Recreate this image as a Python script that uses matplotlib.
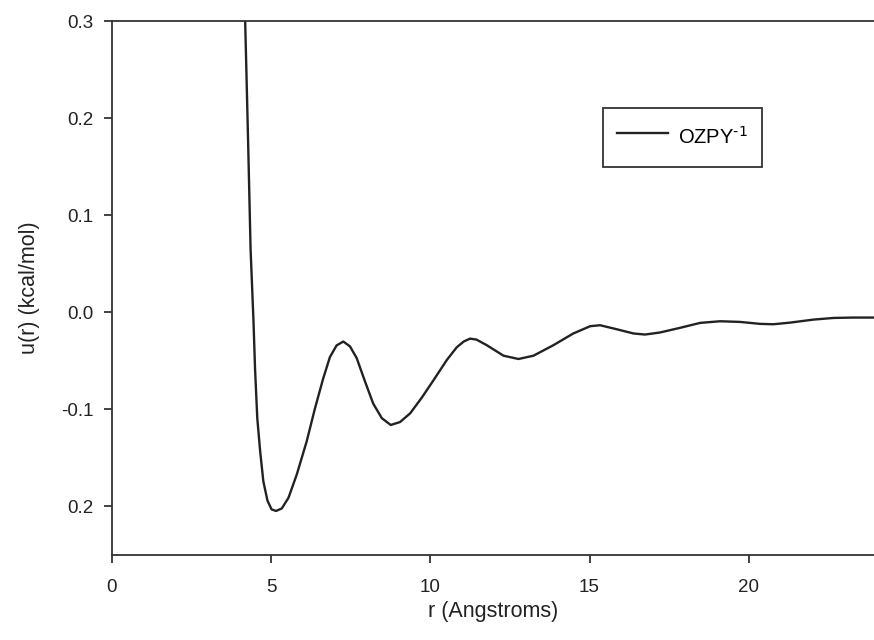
import matplotlib
matplotlib.use("Agg")
import matplotlib.pyplot as plt

plt.rcParams['font.family'] = ['Liberation Sans', 'DejaVu Sans']

# values
r = [4.19, 4.24, 4.29, 4.36, 4.45, 4.50, 4.57, 4.66, 4.76, 4.89, 5.02, 5.16,
     5.34, 5.55, 5.81, 6.12, 6.38, 6.64, 6.85, 7.06, 7.27, 7.48, 7.69, 7.95,
     8.21, 8.48, 8.76, 9.05, 9.37, 9.73, 10.10, 10.52, 10.83, 11.05, 11.25,
     11.45, 11.77, 12.30, 12.77, 13.24, 13.87, 14.49, 15.02, 15.33, 15.86,
     16.38, 16.74, 17.21, 17.84, 18.47, 19.10, 19.73, 20.35, 20.77, 21.30,
     22.03, 22.66, 23.28, 23.93]
u = [0.300, 0.233, 0.165, 0.065, -0.008, -0.058, -0.109, -0.143, -0.174,
     -0.194, -0.203, -0.2046, -0.202, -0.191, -0.167, -0.133, -0.099, -0.068,
     -0.046, -0.034, -0.030, -0.035, -0.047, -0.071, -0.094, -0.109, -0.116,
     -0.113, -0.104, -0.088, -0.070, -0.049, -0.036, -0.030, -0.027, -0.028,
     -0.0337, -0.0446, -0.048, -0.0446, -0.0337, -0.0217, -0.0142, -0.0132,
     -0.0174, -0.0217, -0.0228, -0.0207, -0.0159, -0.0108, -0.0091, -0.0098,
     -0.0118, -0.0122, -0.0105, -0.0074, -0.0057, -0.0053, -0.0053]

xticks = [0, 5, 10, 15, 20]
yticks = [0.3, 0.2, 0.1, 0.0, -0.1, -0.2]
ylabels = ['0.3', '0.2', '0.1', '0.0', '-0.1', '0.2']

fig = plt.figure(figsize=(8.74, 6.4), dpi=100)
ax = fig.add_axes([0.1278, 0.1328, 0.8722, 0.8339])

ax.plot(r, u, color='#222222', lw=1.7, solid_joinstyle='round',
        label=r'OZPY$^{\text{-1}}$')

ax.set_xlim(0, 23.93)
ax.set_ylim(-0.25, 0.3)
ax.set_xticks(xticks)
ax.set_yticks(yticks)
ax.set_yticklabels(ylabels)
ax.tick_params(direction='out', length=6, width=1.2, labelsize=13.5,
               colors='#222222')
ax.tick_params(axis='x', pad=11)
ax.tick_params(axis='y', pad=7)
ax.spines['right'].set_visible(False)
for s in ['left', 'top', 'bottom']:
    ax.spines[s].set_linewidth(1.3)
    ax.spines[s].set_color('#333333')

ax.set_xlabel('r (Angstroms)', fontsize=15.5, color='#222222', labelpad=4)
ax.set_ylabel('u(r) (kcal/mol)', fontsize=15.5, color='#222222', labelpad=15)

leg = ax.legend(loc='upper left', bbox_to_anchor=(0.644, 0.8375),
                borderaxespad=0, fancybox=False, framealpha=1,
                edgecolor='#333333', fontsize=14.5, borderpad=0.7,
                handlelength=2.55, handleheight=1.95, handletextpad=0.5)
leg.get_frame().set_linewidth(1.3)

fig.savefig('out.png', dpi=100)
